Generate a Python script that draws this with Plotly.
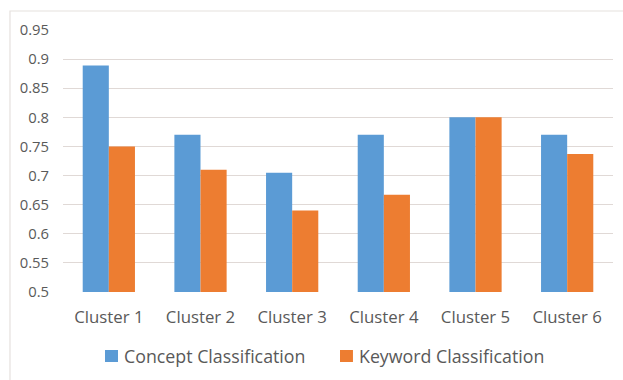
import plotly.graph_objects as go

clusters = ["Cluster 1", "Cluster 2", "Cluster 3", "Cluster 4", "Cluster 5", "Cluster 6"]
series_names = ["Concept Classification", "Keyword Classification"]
concept = [0.889, 0.77, 0.705, 0.77, 0.80, 0.77]
keyword = [0.75, 0.71, 0.64, 0.667, 0.80, 0.737]
y_ticks = [0.5, 0.55, 0.6, 0.65, 0.7, 0.75, 0.8, 0.85, 0.9, 0.95]
y_labels = ["0.5", "0.55", "0.6", "0.65", "0.7", "0.75", "0.8", "0.85", "0.9", "0.95"]

colors = ["#5B9BD5", "#ED7D31"]
text_color = "#595959"
grid_color = "#E0D9D6"
font_family = "Open Sans"

fig = go.Figure()
for name, vals, col in zip(series_names, [concept, keyword], colors):
    fig.add_trace(go.Bar(x=clusters, y=vals, name=name,
                         marker=dict(color=col, line=dict(width=0))))

# legend drawn below the plot: colour swatch followed by its label
legend_shapes = []
legend_notes = []
swatch_x = [0.0764, 0.5036]
for name, col, sx in zip(series_names, colors, swatch_x):
    legend_shapes.append(dict(type="rect", xref="paper", yref="paper",
                              x0=sx, x1=sx + 0.0236, y0=-0.2672, y1=-0.2214,
                              fillcolor=col, line=dict(width=0)))
    legend_notes.append(dict(text=name, xref="paper", yref="paper",
                             x=sx + 0.031, y=-0.2443, xanchor="left", yanchor="middle",
                             showarrow=False,
                             font=dict(family=font_family, size=17.8, color=text_color)))

# light frame around the chart area
legend_shapes.append(dict(type="rect", xref="paper", yref="paper",
                          x0=-0.0964, x1=1.1, y0=-0.5, y1=1.0725,
                          line=dict(color="#E6E1DE", width=1.2),
                          fillcolor="rgba(0,0,0,0)", layer="below"))

fig.update_layout(
    width=623, height=380,
    margin=dict(l=63, r=10, t=30, b=88),
    paper_bgcolor="white", plot_bgcolor="white",
    font=dict(family=font_family, color=text_color, size=14),
    barmode="group", bargap=0.43, bargroupgap=0,
    showlegend=False,
    xaxis=dict(showgrid=False, showline=False, ticks="", tickfont=dict(size=16.8),
               ticklabelstandoff=13),
    yaxis=dict(range=[0.5, 0.95], tickvals=y_ticks, ticktext=y_labels,
               showgrid=True, gridcolor=grid_color, gridwidth=1.3,
               zeroline=False, showline=False, ticks="", tickfont=dict(size=14.8),
               ticklabelstandoff=13),
    shapes=legend_shapes,
    annotations=legend_notes,
)

fig.write_html("out.html")
